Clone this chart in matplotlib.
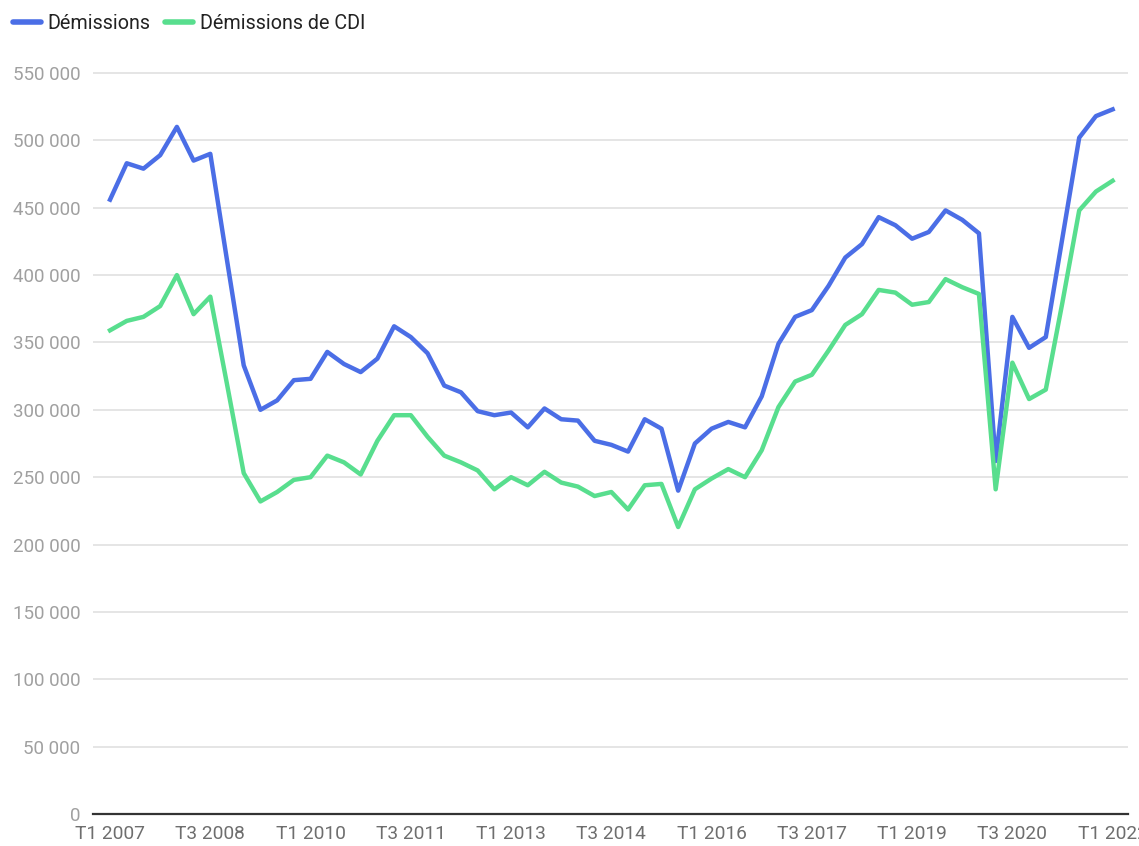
import matplotlib
matplotlib.use("Agg")
import matplotlib.pyplot as plt
from matplotlib.ticker import FuncFormatter

plt.rcParams["font.family"] = ["Roboto", "DejaVu Sans"]

# trimestres T1 2007 -> T1 2022
quarters = [f"T{q} {y}" for y in range(2007, 2023) for q in (1, 2, 3, 4)][:61]

demissions = [
    456000, 483000, 479000, 489000, 510000, 485000, 490000, 411000, 333000, 300000,
    307000, 322000, 323000, 343000, 334000, 328000, 338000, 362000, 354000, 342000,
    318000, 313000, 299000, 296000, 298000, 287000, 301000, 293000, 292000, 277000,
    274000, 269000, 293000, 286000, 240000, 275000, 286000, 291000, 287000, 310000,
    349000, 369000, 374000, 392000, 413000, 423000, 443000, 437000, 427000, 432000,
    448000, 441000, 431000, 262000, 369000, 346000, 354000, 428000, 502000, 518000,
    523000,
]
demissions_cdi = [
    359000, 366000, 369000, 377000, 400000, 371000, 384000, 319000, 253000, 232000,
    239000, 248000, 250000, 266000, 261000, 252000, 277000, 296000, 296000, 280000,
    266000, 261000, 255000, 241000, 250000, 244000, 254000, 246000, 243000, 236000,
    239000, 226000, 244000, 245000, 213000, 241000, 249000, 256000, 250000, 270000,
    302000, 321000, 326000, 344000, 363000, 371000, 389000, 387000, 378000, 380000,
    397000, 391000, 386000, 241000, 335000, 308000, 315000, 380000, 448000, 462000,
    470000,
]
xtick_labels = ["T1 2007", "T3 2008", "T1 2010", "T3 2011", "T1 2013", "T3 2014",
                "T1 2016", "T3 2017", "T1 2019", "T3 2020", "T1 2022"]
yticks = list(range(0, 550001, 50000))

BLUE = "#4b6ee6"
GREEN = "#58de8e"

W, H = 1139, 846
fig = plt.figure(figsize=(W / 100, H / 100), dpi=100)
# zone de tracé en pixels : x 93 -> 1128, y 814 (0) -> 70
ax = fig.add_axes([93 / W, 1 - 814 / H, (1128 - 93) / W, (814 - 70) / H])

x = list(range(len(quarters)))
ax.plot(x, demissions, color=BLUE, lw=3.2, label="Démissions", solid_joinstyle="round", zorder=3)
ax.plot(x, demissions_cdi, color=GREEN, lw=3.2, label="Démissions de CDI", solid_joinstyle="round", zorder=3)

ax.set_xlim(-1.02, 60.92)
ax.set_ylim(0, 550000 * (814 - 70) / (814 - 73))

ax.set_yticks(yticks)
ax.yaxis.set_major_formatter(FuncFormatter(lambda v, p: f"{int(v):,}".replace(",", " ")))
ax.grid(axis="y", color="#e3e3e3", lw=1.3)
ax.set_axisbelow(True)

ax.set_xticks([quarters.index(l) for l in xtick_labels])
ax.set_xticklabels(xtick_labels)

for s in ("top", "right", "left"):
    ax.spines[s].set_visible(False)
ax.spines["bottom"].set_color("#333333")
ax.spines["bottom"].set_linewidth(1.6)
ax.spines["bottom"].set_zorder(4)

ax.tick_params(axis="y", length=0, pad=9, labelsize=13.5, labelcolor="#a0a0a0")
ax.tick_params(axis="x", length=0, pad=8, labelsize=13.8, labelcolor="#6e6e6e")

leg = fig.legend(loc="upper left", bbox_to_anchor=(9 / W, 1 - 10 / H), ncol=2,
                 frameon=False, fontsize=14.2, handlelength=1.4, handletextpad=0.35,
                 columnspacing=0.75, borderaxespad=0, borderpad=0.2)
for h in leg.get_lines():
    h.set_linewidth(4)
    h.set_solid_capstyle("round")
for t in leg.get_texts():
    t.set_color("#222222")

fig.savefig("out.png", dpi=100, facecolor="white")
